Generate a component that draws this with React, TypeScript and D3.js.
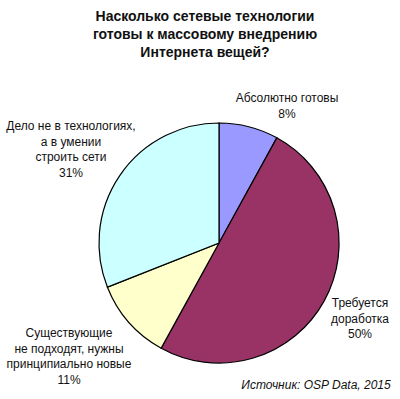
import React, { useEffect, useRef } from 'react';
import * as d3 from 'd3';

const titleLines = ['Насколько сетевые технологии', 'готовы к массовому внедрению', 'Интернета вещей?'];
const categories = [
  ['Абсолютно готовы'],
  ['Требуется', 'доработка'],
  ['Существующие', 'не подходят, нужны', 'принципиально новые'],
  ['Дело не в технологиях,', 'а в умении', 'строить сети'],
];
const shares = [8, 50, 11, 31];
const sliceColors = ['#9999FF', '#993366', '#FFFFCC', '#CCFFFF'];
const sourceText = 'Источник: OSP Data, 2015';

// where each label block sits (centre x, first baseline y)
const labelPos = [
  [287, 102],
  [360, 307],
  [69, 337],
  [71, 130],
];

const W = 400;
const H = 399;
const font = '"Liberation Sans", Arial, sans-serif';

export default function App() {
  const ref = useRef<SVGSVGElement>(null);

  useEffect(() => {
    const svg = d3.select(ref.current);
    svg.selectAll('*').remove();

    svg.append('rect').attr('width', W).attr('height', H).attr('fill', '#fff');

    svg.append('g')
      .selectAll('text')
      .data(titleLines)
      .enter()
      .append('text')
      .attr('x', 205)
      .attr('y', (d, i) => 21 + i * 18)
      .attr('text-anchor', 'middle')
      .attr('font-family', font)
      .attr('font-weight', 'bold')
      .attr('font-size', 14)
      .attr('fill', '#111')
      .text((d) => d);

    const radius = 120;
    const pie = d3.pie<number>().sort(null).value((d) => d);
    const arc = d3.arc<d3.PieArcDatum<number>>().innerRadius(0).outerRadius(radius);

    const pieG = svg.append('g')
      .attr('transform', 'translate(219, 243)');

    pieG.selectAll('path')
      .data(pie(shares))
      .enter()
      .append('path')
      .attr('d', arc)
      .attr('fill', (d, i) => sliceColors[i])
      .attr('stroke', '#000')
      .attr('stroke-width', 1.2);

    categories.forEach((lines, i) => {
      const all = lines.concat([shares[i] + '%']);
      svg.append('g')
        .selectAll('text')
        .data(all)
        .enter()
        .append('text')
        .attr('x', labelPos[i][0])
        .attr('y', (d, j) => labelPos[i][1] + j * 15.5)
        .attr('text-anchor', 'middle')
        .attr('font-family', font)
        .attr('font-size', 12)
        .attr('fill', '#111')
        .text((d) => d);
    });

    svg.append('text')
      .attr('x', 316)
      .attr('y', 389)
      .attr('text-anchor', 'middle')
      .attr('font-family', font)
      .attr('font-style', 'italic')
      .attr('font-size', 12)
      .attr('fill', '#111')
      .text(sourceText);
  }, []);

  return (
    <svg ref={ref} width={W} height={H} style={{ position: 'absolute', left: 0, top: 0 }} />
  );
}
